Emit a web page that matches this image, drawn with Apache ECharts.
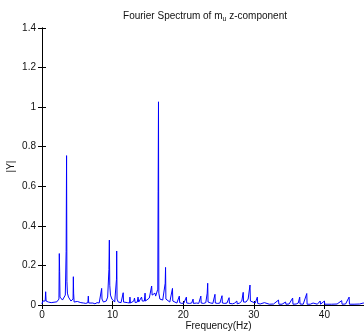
<!DOCTYPE html>
<html>
<head>
<meta charset="utf-8">
<script src="https://cdn.jsdelivr.net/npm/echarts@6/dist/echarts.min.js"></script>
<style>html,body{margin:0;padding:0;background:#fff;}#c{width:364px;height:334px;}</style>
</head>
<body>
<div id="c"></div>
<script>
const xTicks = [0, 10, 20, 30, 40, 50];
const yTicks = [0, 0.2, 0.4, 0.6, 0.8, 1, 1.2, 1.4];
const freq = [
0,0.1,0.2,0.3,0.45,0.52,0.58,0.7,0.9,1.1,1.3,1.5,1.7,1.9,2.1,2.3,2.4,2.45,2.5,2.55,2.7,2.9,3.1,3.3,3.42,3.48,3.53,3.6,3.75,3.9,
4.1,4.3,4.4,4.44,4.48,4.55,4.8,5.0,5.2,5.5,5.7,5.9,6.2,6.5,6.56,6.62,6.9,7.2,7.5,7.8,8.1,8.3,8.45,8.5,8.7,8.9,9.1,9.3,9.48,9.54,
9.6,9.7,9.9,10.1,10.3,10.5,10.55,10.58,10.63,10.8,11.0,11.2,11.45,11.5,11.55,11.8,12.1,12.4,12.46,12.52,12.8,13.0,13.1,13.2,13.5,13.6,13.7,13.9,14.1,14.2,
14.5,14.6,14.65,14.9,15.2,15.4,15.53,15.6,15.8,16.0,16.1,16.3,16.4,16.45,16.5,16.55,16.7,16.9,17.1,17.3,17.45,17.5,17.55,17.8,18.1,18.3,18.48,18.53,18.8,19.1,
19.45,19.5,19.8,20.1,20.45,20.5,20.9,21.2,21.4,21.45,21.9,22.2,22.5,22.55,22.9,23.2,23.4,23.47,23.52,23.9,24.2,24.5,24.55,24.9,25.2,25.5,25.55,25.9,26.2,26.5,
26.55,27.0,27.3,27.6,27.65,28.0,28.3,28.5,28.55,28.9,29.2,29.46,29.52,29.8,30.2,30.5,30.55,30.9,31.5,31.55,32.2,32.8,33.5,33.55,34.0,34.5,34.55,35.0,35.5,35.55,
36.0,36.3,36.5,36.55,37.0,37.5,37.55,38.0,38.4,38.45,39.0,39.4,39.45,40.0,40.05,41.0,41.8,42.45,42.5,43.0,43.5,43.55,44.2,45.0,45.5,45.55,46.5,47.5,47.55,48.5,
49.5,50
];
const amp = [
0.005,0.02,0.012,0.015,0.02,0.067,0.02,0.01,0.015,0.008,0.012,0.01,0.014,0.01,0.016,0.02,0.03,0.26,0.17,0.04,0.03,0.025,0.035,0.05,0.27,0.755,0.12,0.06,0.04,0.03,
0.02,0.015,0.03,0.143,0.06,0.015,0.01,0.018,0.008,0.012,0.02,0.01,0.008,0.012,0.045,0.01,0.008,0.01,0.006,0.012,0.01,0.015,0.084,0.03,0.015,0.012,0.02,0.04,0.18,0.328,
0.1,0.05,0.03,0.02,0.015,0.02,0.13,0.273,0.03,0.015,0.01,0.012,0.015,0.062,0.015,0.01,0.012,0.01,0.04,0.01,0.015,0.02,0.035,0.012,0.015,0.04,0.015,0.02,0.04,0.02,
0.02,0.06,0.02,0.03,0.035,0.04,0.096,0.05,0.04,0.06,0.045,0.05,0.08,0.572,1.027,0.06,0.03,0.02,0.025,0.03,0.11,0.19,0.03,0.02,0.015,0.02,0.084,0.02,0.012,0.01,
0.045,0.012,0.008,0.01,0.04,0.01,0.008,0.01,0.03,0.008,0.01,0.008,0.045,0.01,0.008,0.012,0.06,0.11,0.015,0.01,0.008,0.054,0.01,0.008,0.01,0.047,0.01,0.008,0.01,0.037,
0.008,0.006,0.01,0.02,0.006,0.01,0.02,0.064,0.015,0.015,0.03,0.101,0.02,0.012,0.01,0.04,0.008,0.005,0.012,0.004,0.004,0.005,0.025,0.004,0.004,0.015,0.004,0.005,0.035,0.004,
0.005,0.01,0.04,0.005,0.004,0.058,0.004,0.004,0.01,0.004,0.004,0.02,0.004,0.02,0.004,0.004,0.005,0.022,0.004,0.005,0.04,0.004,0.004,0.005,0.01,0.004,0.004,0.008,0.004,0.004,
0.006,0.004
];
const titleText = 'Fourier Spectrum of m{sub|u} z-component';
const xName = 'Frequency(Hz)';
const yName = '|Y|';

const data = freq.map((f, i) => [f, amp[i]]);
const font = 'Liberation Sans, Arial, sans-serif';
const fmtY = v => String(Math.round(v * 10) / 10);

const chart = echarts.init(document.getElementById('c'), null, {renderer: 'canvas'});
chart.setOption({
  animation: false,
  backgroundColor: '#fff',
  title: {
    text: titleText,
    left: 200, top: 5, textAlign: 'center',
    textStyle: {
      fontFamily: font, fontSize: 10, fontWeight: 'normal', color: '#111',
      rich: { sub: { fontFamily: font, fontSize: 7, color: '#111', verticalAlign: 'bottom', padding: [6, 0, 0, 0] } }
    }
  },
  grid: {left: 42, top: 28, width: 353, height: 277, show: false, containLabel: false, outerBoundsMode: 'none'},
  xAxis: [{
    type: 'value', min: xTicks[0], max: xTicks[xTicks.length - 1], interval: 10,
    name: xName, nameLocation: 'middle', nameGap: 16, nameMoveOverlap: false,
    nameTextStyle: {fontFamily: font, fontSize: 10, color: '#111'},
    axisLine: {lineStyle: {color: '#000', width: 1}},
    axisTick: {inside: true, length: 4, lineStyle: {color: '#000'}},
    axisLabel: {fontFamily: font, fontSize: 10, color: '#111', margin: 5},
    splitLine: {show: false}
  }, {
    type: 'value', position: 'top', min: xTicks[0], max: xTicks[xTicks.length - 1], interval: 10,
    axisLine: {show: true, lineStyle: {color: '#000', width: 1}},
    axisTick: {inside: true, length: 4, lineStyle: {color: '#000'}},
    axisLabel: {show: false}, splitLine: {show: false}
  }],
  yAxis: [{
    type: 'value', min: yTicks[0], max: yTicks[yTicks.length - 1], interval: 0.2,
    name: yName, nameLocation: 'middle', nameGap: 26, nameRotate: 90, nameMoveOverlap: false,
    nameTextStyle: {fontFamily: font, fontSize: 10, color: '#111'},
    axisLine: {show: true, lineStyle: {color: '#000', width: 1}},
    axisTick: {show: true, inside: true, length: 4, lineStyle: {color: '#000'}},
    axisLabel: {fontFamily: font, fontSize: 10, color: '#111', margin: 6, formatter: fmtY},
    splitLine: {show: false}
  }, {
    type: 'value', position: 'right', min: yTicks[0], max: yTicks[yTicks.length - 1], interval: 0.2,
    axisLine: {show: true, lineStyle: {color: '#000'}},
    axisTick: {show: true, inside: true, length: 4},
    axisLabel: {show: false}, splitLine: {show: false}
  }],
  series: [{
    type: 'line', data: data, showSymbol: false, symbol: 'none',
    lineStyle: {color: '#0000ff', width: 1},
    clip: true
  }]
});
</script>
</body>
</html>
